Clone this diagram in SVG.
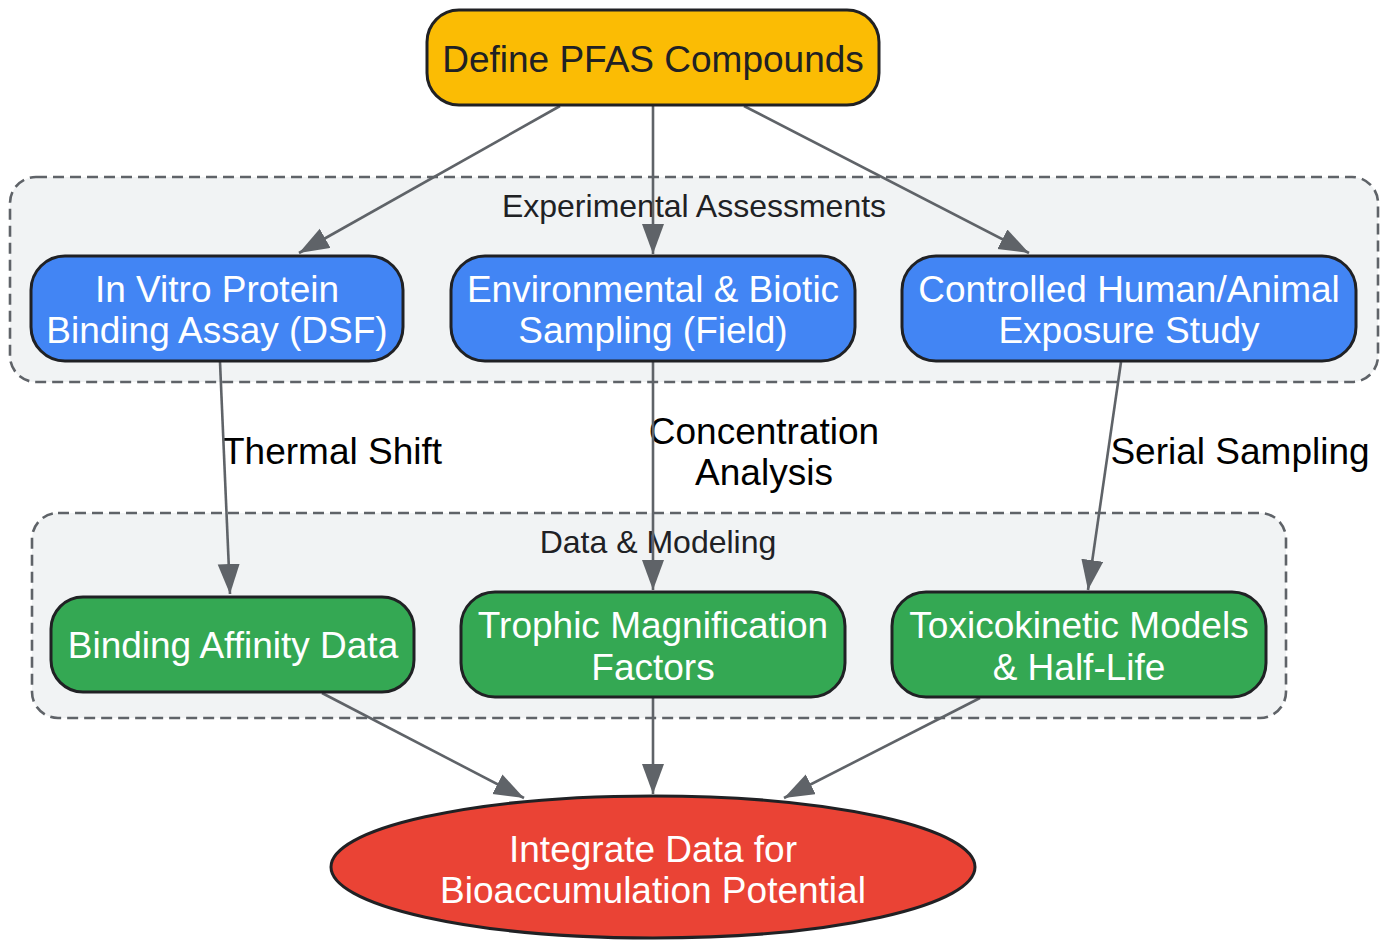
<svg xmlns="http://www.w3.org/2000/svg" width="1387" height="941" viewBox="0 0 1387 941">
<style>
text{font-family:"Liberation Sans",Arial,sans-serif;text-anchor:middle}
.cl{fill:#F1F3F4;stroke:#5F6368;stroke-width:2.6;stroke-dasharray:11 6}
.clt{font-size:32px;fill:#202124}
.n{stroke:#202124;stroke-width:3}
.nt{font-size:37px;fill:#fff}
.e{fill:none;stroke:#5F6368;stroke-width:2.6;marker-end:url(#ah)}
.el{font-size:37px;fill:#000}
</style>
<defs>
<marker id="ah" markerUnits="userSpaceOnUse" markerWidth="31" markerHeight="23" refX="30" refY="11" orient="auto">
<path d="M0,0 L30,11 L0,22 z" fill="#5F6368"/>
</marker>
</defs>
<rect width="1387" height="941" fill="#fff"/>
<g id="cluster-exp">
<rect class="cl" x="10" y="177" width="1368" height="205" rx="26"/>
<text class="clt" x="694" y="217">Experimental Assessments</text>
</g>
<g id="cluster-data">
<rect class="cl" x="32" y="513" width="1254" height="205" rx="26"/>
<text class="clt" x="658" y="553">Data &amp; Modeling</text>
</g>
<g id="connectors">
<text class="el" x="332" y="464">Thermal Shift</text>
<text class="el" x="764" y="444">Concentration</text>
<text class="el" x="764" y="485">Analysis</text>
<text class="el" x="1240" y="464">Serial Sampling</text>
<line class="e" x1="560" y1="106" x2="299" y2="253"/>
<line class="e" x1="653" y1="106" x2="653" y2="254"/>
<line class="e" x1="744" y1="106" x2="1029" y2="253"/>
<line class="e" x1="220" y1="362" x2="230" y2="594"/>
<line class="e" x1="653" y1="362" x2="653" y2="590"/>
<line class="e" x1="1121" y1="362" x2="1088" y2="590"/>
<line class="e" x1="322" y1="693" x2="524" y2="798"/>
<line class="e" x1="653" y1="698" x2="653" y2="794"/>
<line class="e" x1="980" y1="698" x2="784" y2="798"/>
</g>
<g id="define">
<rect class="n" x="427" y="10" width="452" height="95" rx="32" fill="#FBBC04"/>
<text class="nt" x="653" y="72" style="fill:#202124">Define PFAS Compounds</text>
</g>
<g id="invitro">
<rect class="n" x="31" y="256" width="372" height="105" rx="34" fill="#4285F4"/>
<text class="nt" x="217" y="302">In Vitro Protein</text>
<text class="nt" x="217" y="343">Binding Assay (DSF)</text>
</g>
<g id="environmental">
<rect class="n" x="451" y="256" width="404" height="105" rx="34" fill="#4285F4"/>
<text class="nt" x="653" y="302">Environmental &amp; Biotic</text>
<text class="nt" x="653" y="343">Sampling (Field)</text>
</g>
<g id="controlled">
<rect class="n" x="902" y="256" width="454" height="105" rx="34" fill="#4285F4"/>
<text class="nt" x="1129" y="302">Controlled Human/Animal</text>
<text class="nt" x="1129" y="343">Exposure Study</text>
</g>
<g id="binding">
<rect class="n" x="51" y="597" width="363" height="95" rx="32" fill="#34A853"/>
<text class="nt" x="233" y="658">Binding Affinity Data</text>
</g>
<g id="trophic">
<rect class="n" x="461" y="592" width="384" height="105" rx="34" fill="#34A853"/>
<text class="nt" x="653" y="638">Trophic Magnification</text>
<text class="nt" x="653" y="680">Factors</text>
</g>
<g id="toxicokinetic">
<rect class="n" x="892" y="592" width="374" height="105" rx="34" fill="#34A853"/>
<text class="nt" x="1079" y="638">Toxicokinetic Models</text>
<text class="nt" x="1079" y="680">&amp; Half-Life</text>
</g>
<g id="integrate">
<ellipse class="n" cx="653" cy="867" rx="322" ry="71" fill="#EA4335"/>
<text class="nt" x="653" y="862">Integrate Data for</text>
<text class="nt" x="653" y="903">Bioaccumulation Potential</text>
</g>
</svg>
